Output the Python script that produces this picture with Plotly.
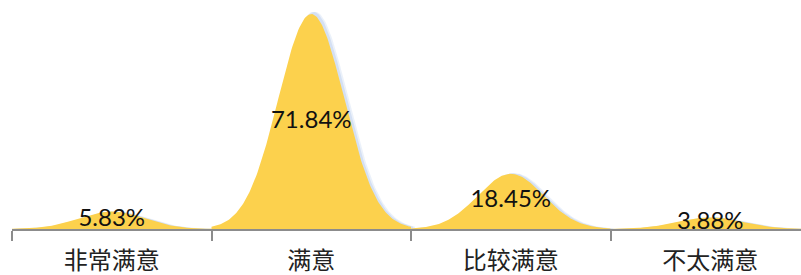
import numpy as np
import plotly.graph_objects as go

categories = ["非常满意", "满意", "比较满意", "不太满意"]
values = [5.83, 71.84, 18.45, 3.88]
labels = [f"{v:.2f}%" for v in values]

FILL = "#FCD14D"
SIGMA = 0.165  # peak spread in category units

fig = go.Figure()

xs = np.linspace(-0.5, 0.5, 201)
# soft shadow behind each peak
for i, v in enumerate(values):
    for shift, alpha in [(0.02, 0.3), (0.011, 0.5)]:
        fig.add_trace(go.Scatter(
            x=xs + i + shift, y=v * np.exp(-0.5 * (xs / SIGMA) ** 2) * 1.01,
            mode="lines", line=dict(width=0), fill="tozeroy",
            fillcolor=f"rgba(190,208,238,{alpha})", hoverinfo="skip", showlegend=False))
for i, v in enumerate(values):
    fig.add_trace(go.Scatter(
        x=xs + i, y=v * np.exp(-0.5 * (xs / SIGMA) ** 2),
        mode="lines", line=dict(width=0, color=FILL), fill="tozeroy",
        fillcolor=FILL, hoverinfo="skip", showlegend=False))

fig.add_trace(go.Scatter(
    x=list(range(len(categories))), y=[v / 2 for v in values],
    mode="text", text=labels,
    textfont=dict(family="Lato, Open Sans, sans-serif", size=24, color="#111111"),
    hoverinfo="skip", showlegend=False))

Y_TOP = max(values) * 225 / 215

fig.update_layout(
    width=801, height=275,
    margin=dict(l=12, r=0, t=4, b=46),
    paper_bgcolor="white", plot_bgcolor="white",
    xaxis=dict(
        range=[-0.5, -0.5 + 789 / 199.5],
        tickmode="array", tickvals=list(range(len(categories))), ticktext=categories,
        ticks="", showgrid=False, zeroline=False, automargin=False,
        showline=True, linecolor="#8c8c8c", linewidth=2,
        tickfont=dict(family="Noto Sans CJK SC", size=24, color="#222222"),
        ticklabelstandoff=9,
        minor=dict(tickmode="array", tickvals=[-0.5, 0.5, 1.5, 2.5, 3.5],
                   ticks="outside", ticklen=10, tickwidth=2, tickcolor="#8c8c8c",
                   showgrid=False),
    ),
    yaxis=dict(range=[0, Y_TOP], visible=False, showgrid=False, zeroline=False),
)

fig.write_html("out.html", config={"displayModeBar": False},
               post_script="document.body.style.margin='0';document.body.style.padding='0';")
